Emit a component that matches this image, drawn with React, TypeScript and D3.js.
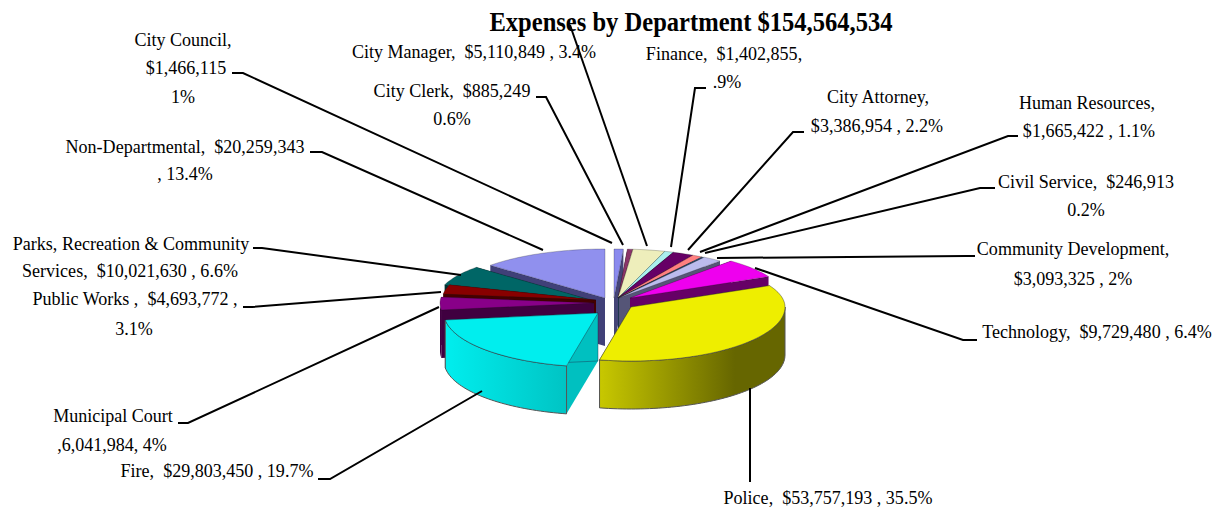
import React from "react";
import * as d3 from "d3";

const departments = ["City Council","City Clerk","City Manager","Finance","City Attorney","Human Resources","Civil Service","Community Development","Technology","Police","Fire","Municipal Court","Public Works","Parks, Recreation & Community Services","Non-Departmental"];
const expenses = [1466115,885249,5110849,1402855,3386954,1665422,246913,3093325,9729480,53757193,29803450,6041984,4693772,10021630,20259343];
const topColors = ["#8a8aee","#8a3468","#eeeebb","#aaeeee","#660066","#ff8080","#3a6a9a","#bbbbee","#ee00ee","#eeee00","#00eeee","#880088","#880000","#006666","#9090ee"];
const wallColors = ["#444477","#441a34","#8a8a66","#558888","#330033","#884040","#1d354d","#555577","#660066","#666600","#00c0c0","#400040","#440000","#003333","#404078"];
const wallLight = ["#444477","#441a34","#8a8a66","#558888","#330033","#884040","#1d354d","#555577","#660066","#c8c800","#00eeee","#400040","#440000","#003333","#404078"];
const sliceCentres: [number, number][] = [[614,298],[618,298],[618,298],[618,298],[618,298],[618,298],[618,298],[619,298],[630,298],[631,307],[598,313],[594,303],[596,300],[591,300],[605,298]];
const paintOrder = [0,1,2,3,4,5,6,7,8,14,13,12,11,9,10];

const labelLines: [string, number, number][] = [
  ["City Council,",183,46],["$1,466,115",186,74],["1%",183,103],
  ["City Manager,  $5,110,849 , 3.4%",474,58],
  ["City Clerk,  $885,249",452,97],["0.6%",452,125],
  ["Finance,  $1,402,855,",724,60],[".9%",727,88],
  ["City Attorney,",878,103],["$3,386,954 , 2.2%",877,132],
  ["Human Resources,",1087,109],["$1,665,422 , 1.1%",1089,137],
  ["Civil Service,  $246,913",1086,188],["0.2%",1086,216],
  ["Community Development,",1073,255],["$3,093,325 , 2%",1073,285],
  ["Technology,  $9,729,480 , 6.4%",1097,338],
  ["Police,  $53,757,193 , 35.5%",828,504],
  ["Fire,  $29,803,450 , 19.7%",217,477],
  ["Municipal Court",113,422],[",6,041,984, 4%",112,451],
  ["Public Works ,  $4,693,772 ,",135,305],["3.1%",134,335],
  ["Parks, Recreation & Community",131,250],["Services,  $10,021,630 , 6.6%",130,277],
  ["Non-Departmental,  $20,259,343",185,153],[", 13.4%",185,180],
];
const leaders: [number, number][][] = [
  [[232,73],[243,73],[612,243]],
  [[570,25],[647,246]],
  [[536,97],[546,97],[623,245]],
  [[310,152],[322,152],[543,250]],
  [[253,248],[262,248],[461,275]],
  [[243,307],[252,307],[441,292]],
  [[178,423],[188,423],[439,307]],
  [[318,479],[330,479],[482,391]],
  [[750,482],[750,388]],
  [[977,340],[963,340],[755,268]],
  [[975,256],[966,256],[717,258]],
  [[995,188],[980,188],[705,253]],
  [[1018,136],[1008,136],[700,252]],
  [[804,132],[793,132],[688,250]],
  [[706,88],[695,88],[671,247]],
];

const RX = 154, RY_BACK = 49, RY_FRONT = 54, DEPTH = 48;
const FONT = "'Liberation Serif', 'Times New Roman', serif";

export default function App() {
  const arcs = d3.pie<number>().sort(null).value((d) => d)(expenses);
  const rim = (a: number, c: [number, number], drop = 0): [number, number] => [
    c[0] + RX * Math.sin(a),
    c[1] - Math.cos(a) * (Math.cos(a) > 0 ? RY_BACK : RY_FRONT) + drop,
  ];
  const line = d3.line();
  const samples = (a0: number, a1: number) => {
    const n = Math.max(2, Math.ceil((a1 - a0) / 0.03));
    return d3.range(n + 1).map((i) => a0 + ((a1 - a0) * i) / n);
  };
  const leaderLine = d3.line();

  return (
    <svg width={1223} height={512} style={{ position: "absolute", left: 0, top: 0, background: "#fff" }}>
      <defs>
        {arcs.map((arc, i) => {
          const c = sliceCentres[i];
          const x0 = rim(Math.max(arc.startAngle, Math.PI / 2), c)[0];
          const x1 = rim(Math.min(arc.endAngle, (3 * Math.PI) / 2), c)[0];
          return (
            <linearGradient key={i} id={`wall${i}`} gradientUnits="userSpaceOnUse" x1={Math.min(x0, x1)} x2={i === 9 ? Math.max(x0, x1) - 50 : Math.max(x0, x1)} y1={0} y2={0}>
              <stop offset="0" stopColor={i === 9 ? wallLight[i] : i === 10 ? wallLight[i] : wallColors[i]} />
              <stop offset="1" stopColor={i === 10 ? "#00c4c4" : wallColors[i]} />
            </linearGradient>
          );
        })}
      </defs>
      {paintOrder.map((i) => {
        const arc = arcs[i];
        const c = sliceCentres[i];
        const a0 = arc.startAngle, a1 = arc.endAngle;
        const ang = samples(a0, a1);
        const topPts = [c as [number, number], ...ang.map((a) => rim(a, c))];
        const wallFace = (a: number) => [c, rim(a, c), rim(a, c, DEPTH), [c[0], c[1] + DEPTH]] as [number, number][];
        const wa0 = Math.max(a0, Math.PI / 2), wa1 = Math.min(a1, (3 * Math.PI) / 2);
        const outer = wa1 > wa0 ? samples(wa0, wa1) : [];
        const outerPts = [...outer.map((a) => rim(a, c)), ...[...outer].reverse().map((a) => rim(a, c, DEPTH))];
        const edge = i === 9 || i === 10;
        return (
          <g key={i}>
            <path d={line(wallFace(a0)) + "Z"} fill={i === 10 ? "#00c0c0" : wallColors[i]} />
            <path d={line(wallFace(a1)) + "Z"} fill={i === 10 ? "#00c0c0" : i === 9 ? "#c8c800" : wallColors[i]} stroke={edge ? "#224" : "none"} strokeWidth={edge ? 0.4 : 0} />
            {outerPts.length > 0 && (
              <path d={line(outerPts) + "Z"} fill={`url(#wall${i})`} stroke={edge ? "#555" : "none"} strokeWidth={edge ? 1 : 0} />
            )}
            <path d={line(topPts) + "Z"} fill={topColors[i]} stroke={edge ? "#223" : "#111"} strokeOpacity={0.6} strokeWidth={edge ? 0.7 : 0.4} />
          </g>
        );
      })}
      {leaders.map((pts, i) => (
        <path key={i} d={leaderLine(pts) as string} fill="none" stroke="#000" strokeWidth={2} />
      ))}
      <g fontFamily={FONT} fill="#000" textAnchor="middle">
        {labelLines.map(([t, x, y], i) => (
          <text key={i} transform={`translate(${x},${y}) scale(0.95,1)`} fontSize={19} xmlSpace="preserve" style={{ whiteSpace: "pre" }}>{t}</text>
        ))}
        <text transform="translate(691,31) scale(0.91,1)" fontSize={27} fontWeight="bold">Expenses by Department $154,564,534</text>
      </g>
    </svg>
  );
}
